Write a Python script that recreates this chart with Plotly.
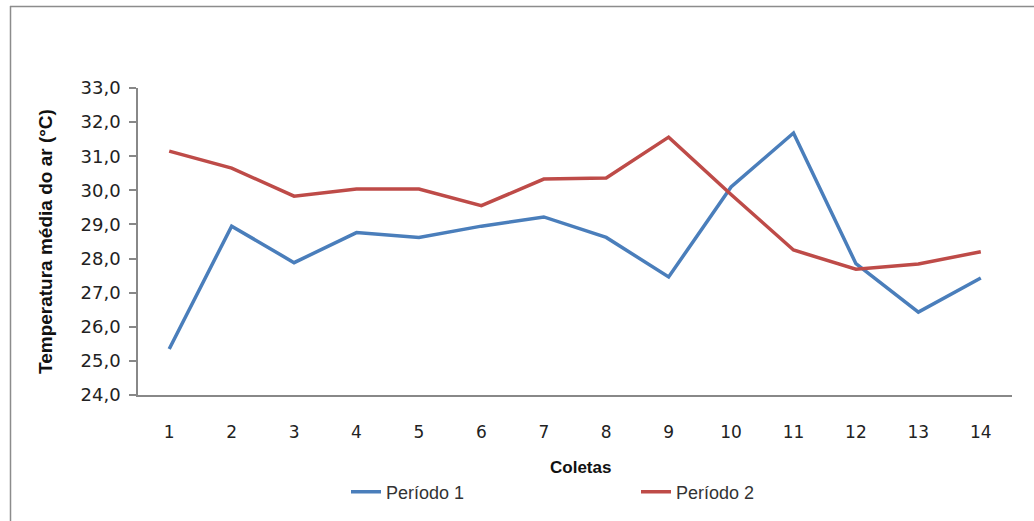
import plotly.graph_objects as go

coletas = list(range(1, 15))
periodo1 = [25.35, 28.95, 27.88, 28.76, 28.62, 28.95, 29.22, 28.62, 27.46, 30.1, 31.68, 27.85, 26.43, 27.43]
periodo2 = [31.15, 30.65, 29.83, 30.04, 30.04, 29.55, 30.33, 30.36, 31.56, 29.88, 28.25, 27.69, 27.84, 28.2]
y_ticks = [24, 25, 26, 27, 28, 29, 30, 31, 32, 33]
y_tick_text = [f"{v:.1f}".replace(".", ",") for v in y_ticks]

W, H = 1034, 521
L, R, T, B = 138, 22, 88, 126
pw, ph = W - L - R, H - T - B

def px_x(x):
    return (x - L) / pw

def px_y(y):
    return (H - B - y) / ph

fig = go.Figure()
fig.add_trace(go.Scatter(x=coletas, y=periodo1, mode="lines", name="Período 1",
                         line=dict(color="#4A7EBB", width=3.5)))
fig.add_trace(go.Scatter(x=coletas, y=periodo2, mode="lines", name="Período 2",
                         line=dict(color="#BE4B48", width=3.5)))

fig.update_layout(
    width=W, height=H,
    margin=dict(l=L, r=R, t=T, b=B, autoexpand=False),
    paper_bgcolor="white", plot_bgcolor="white",
    font=dict(family="DejaVu Sans", size=15, color="#222222"),
    showlegend=True,
    legend=dict(orientation="h", x=px_x(346), xanchor="left", y=px_y(492), yanchor="middle",
                font=dict(family="Liberation Sans", size=18, color="#333333"),
                entrywidth=245, entrywidthmode="pixels", bgcolor="rgba(0,0,0,0)"),
    xaxis=dict(range=[0.5, 14.5], tickmode="array", tickvals=coletas,
               ticktext=[str(c) for c in coletas], showgrid=False, zeroline=False,
               showline=True, linecolor="#888888", linewidth=1.5, ticks="",
               ticklabelstandoff=21, tickfont=dict(family="DejaVu Sans", size=17, color="#222222")),
    yaxis=dict(range=[24, 33], tickmode="array", tickvals=y_ticks, ticktext=y_tick_text,
               showgrid=False, zeroline=False, showline=True, linecolor="#888888", linewidth=1.5,
               ticks="outside", ticklen=7, tickcolor="#888888", tickwidth=1.5,
               ticklabelstandoff=5, tickfont=dict(family="DejaVu Sans", size=18, color="#222222")),
    annotations=[
        dict(text="<b>Coletas</b>", x=px_x(580), y=px_y(467), xref="paper", yref="paper",
             showarrow=False, xanchor="center", yanchor="middle",
             font=dict(family="Liberation Sans", size=17, color="#111111")),
        dict(text="<b>Temperatura média do ar (°C)</b>", x=px_x(45), y=px_y(242),
             xref="paper", yref="paper", showarrow=False, textangle=-90,
             xanchor="center", yanchor="middle",
             font=dict(family="Liberation Sans", size=19, color="#111111")),
    ],
    shapes=[
        dict(type="line", xref="paper", yref="paper", x0=px_x(10), x1=px_x(W + 20),
             y0=px_y(6.5), y1=px_y(6.5), line=dict(color="#8C8C8C", width=1.5)),
        dict(type="line", xref="paper", yref="paper", x0=px_x(10.5), x1=px_x(10.5),
             y0=px_y(6), y1=px_y(H + 20), line=dict(color="#8C8C8C", width=1.5)),
    ],
)

fig.write_html("out.html")
